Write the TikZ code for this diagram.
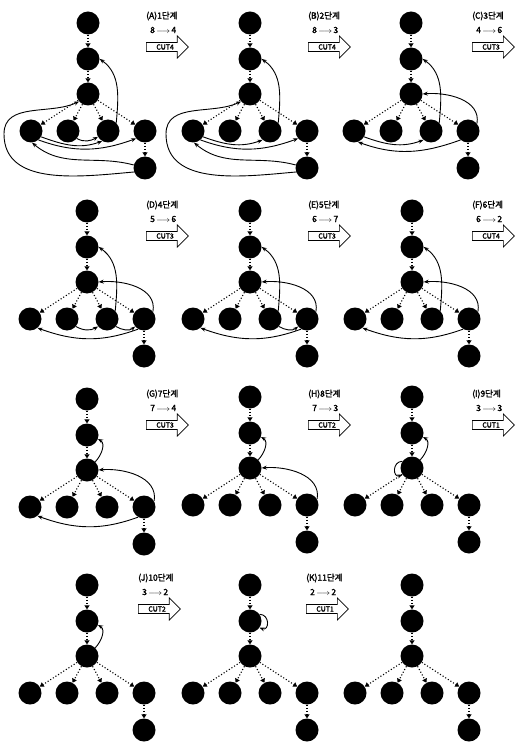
\documentclass[tikz,border=0pt]{standalone}
\usepackage{fontspec}
\newfontfamily\kfont{Noto Sans CJK KR}[FakeBold=2]
\usetikzlibrary{arrows.meta, shapes.arrows, calc, positioning}

\tikzset{
  vtx/.style={circle, fill=black, minimum size=23pt, inner sep=0pt},
  treeedge/.style={dotted, line width=1.1pt, -{Triangle[length=4pt,width=5pt]}},
  cutarc/.style={line width=0.9pt, -{Stealth[length=5pt,width=4pt]}},
  steptext/.style={anchor=west, inner sep=0pt, font=\kfont\fontsize{8.5}{9}\selectfont},
  cutbox/.style={draw, line width=0.7pt, single arrow, single arrow head extend=6.5pt,
    minimum height=42pt, inner sep=1.5pt, anchor=west, font=\kfont\fontsize{7}{7}\selectfont},
}

% one tree: prefix, x, y of the root
\newcommand\stagetree[3]{%
  \node[vtx] (#1-r) at (#2,#3) {};
  \node[vtx] (#1-n2) at ($(#1-r)+(0,-36)$) {};
  \node[vtx] (#1-n3) at ($(#1-r)+(0,-71)$) {};
  \node[vtx] (#1-c1) at ($(#1-r)+(-57,-108)$) {};
  \node[vtx] (#1-c2) at ($(#1-r)+(-20,-108)$) {};
  \node[vtx] (#1-c3) at ($(#1-r)+(20,-108)$) {};
  \node[vtx] (#1-c4) at ($(#1-r)+(57,-108)$) {};
  \node[vtx] (#1-b) at ($(#1-r)+(57,-145)$) {};
  \draw[treeedge] (#1-r) -- (#1-n2);
  \draw[treeedge] (#1-n2) -- (#1-n3);
  \foreach \c in {c1,c2,c3,c4}
    \draw[treeedge] (#1-n3) -- (#1-\c);
  \draw[treeedge] (#1-c4) -- (#1-b);
}

% stage caption: prefix, x, y, title, numbers, cut
\newcommand\stagelabel[6]{%
  \node[steptext] (#1-title) at (#2,#3) {#4};
  \node[steptext] (#1-step) at ($(#1-title.west)+(4,-14)$) {#5};
  \node[cutbox] (#1-cut) at ($(#1-title.west)+(0,-31)$) {#6};
}

\begin{document}
\begin{tikzpicture}[x=1pt,y=1pt]
\useasboundingbox (0,0) rectangle (517,-743);

% Trees
\stagetree{A}{88}{-23}
\stagetree{B}{250}{-23}
\stagetree{C}{411}{-23}
\stagetree{D}{87}{-211}
\stagetree{E}{250}{-211}
\stagetree{F}{412}{-211}
\stagetree{G}{87}{-399}
\stagetree{H}{250}{-397}
\stagetree{I}{412}{-397}
\stagetree{J}{87}{-585}
\stagetree{K}{250}{-585}
\stagetree{L}{412}{-585}

% Captions
\stagelabel{A}{146}{-16}{(A)1단계}{8\,$\longrightarrow$\,4}{CUT4}
\stagelabel{B}{308}{-16}{(B)2단계}{8\,$\longrightarrow$\,3}{CUT4}
\stagelabel{C}{472}{-16}{(C)3단계}{4\,$\longrightarrow$\,6}{CUT3}
\stagelabel{D}{146}{-205}{(D)4단계}{5\,$\longrightarrow$\,6}{CUT3}
\stagelabel{E}{308}{-205}{(E)5단계}{6\,$\longrightarrow$\,7}{CUT3}
\stagelabel{F}{472}{-205}{(F)6단계}{6\,$\longrightarrow$\,2}{CUT4}
\stagelabel{G}{146}{-394}{(G)7단계}{7\,$\longrightarrow$\,4}{CUT3}
\stagelabel{H}{308}{-394}{(H)8단계}{7\,$\longrightarrow$\,3}{CUT2}
\stagelabel{I}{472}{-394}{(I)9단계}{3\,$\longrightarrow$\,3}{CUT1}
\stagelabel{J}{138}{-578}{(J)10단계}{3\,$\longrightarrow$\,2}{CUT2}
\stagelabel{K}{306}{-578}{(K)11단계}{2\,$\longrightarrow$\,2}{CUT1}

% Stage A
\coordinate (A-lp) at ($(A-c1)+(-27,-3)$);
\draw[cutarc] (A-c3.45) to[out=85,in=-35] (A-n2.east);
\draw[cutarc] (A-b.200) to[out=185,in=-90] (A-lp) to[out=90,in=205] (A-n3.220);
\draw[cutarc] (A-b.165) to[out=165,in=-40] (A-c1.-85);
\draw[cutarc] (A-c2.-40) to[out=-30,in=210] (A-c3.-150);
\draw[cutarc] (A-c1.-30) to[out=-20,in=200] (A-c3.-120);
\draw[cutarc] (A-c1.-50) to[out=-20,in=200] (A-c4.-140);

% Stage B
\coordinate (B-lp) at ($(B-c1)+(-27,-3)$);
\draw[cutarc] (B-c3.45) to[out=85,in=-35] (B-n2.east);
\draw[cutarc] (B-b.200) to[out=185,in=-90] (B-lp) to[out=90,in=205] (B-n3.220);
\draw[cutarc] (B-b.165) to[out=165,in=-40] (B-c1.-85);
\draw[cutarc] (B-c1.-30) to[out=-20,in=200] (B-c3.-130);
\draw[cutarc] (B-c1.-50) to[out=-20,in=200] (B-c4.-140);

% Stage C
\draw[cutarc] (C-c3.45) to[out=85,in=-35] (C-n2.east);
\draw[cutarc] (C-c4.40) to[out=80,in=5] (C-n3.east);
\draw[cutarc] (C-c1.-30) to[out=-20,in=200] (C-c3.-130);
\draw[cutarc] (C-c4.-130) to[out=200,in=-20] (C-c1.-70);

% Stage D
\draw[cutarc] (D-c3.45) to[out=85,in=-35] (D-n2.east);
\draw[cutarc] (D-c4.40) to[out=80,in=5] (D-n3.east);
\draw[cutarc] (D-c2.-40) to[out=-30,in=210] (D-c3.-140);
\draw[cutarc] (D-c3.-40) to[out=-30,in=220] (D-c4.-140);
\draw[cutarc] (D-c4.-120) to[out=200,in=-20] (D-c1.-50);

% Stage E
\draw[cutarc] (E-c3.45) to[out=85,in=-35] (E-n2.east);
\draw[cutarc] (E-c4.40) to[out=80,in=5] (E-n3.east);
\draw[cutarc] (E-c3.-40) to[out=-30,in=220] (E-c4.-140);
\draw[cutarc] (E-c4.-120) to[out=200,in=-20] (E-c1.-50);

% Stage F
\draw[cutarc] (F-c3.45) to[out=85,in=-35] (F-n2.east);
\draw[cutarc] (F-c4.40) to[out=80,in=5] (F-n3.east);
\draw[cutarc] (F-c4.-120) to[out=200,in=-20] (F-c1.-50);

% Stage G
\draw[cutarc] (G-n3.45) to[out=45,in=-30] (G-n2.-20);
\draw[cutarc] (G-c4.30) to[out=80,in=5] (G-n3.east);
\draw[cutarc] (G-c4.-120) to[out=200,in=-20] (G-c1.-50);

% Stage H
\draw[cutarc] (H-n3.45) to[out=45,in=-30] (H-n2.-20);
\draw[cutarc] (H-c4.30) to[out=80,in=5] (H-n3.east);

% Stage I
\draw[cutarc] (I-n3.45) to[out=45,in=-30] (I-n2.-20);
\draw[cutarc] (I-n3.145) to[out=180,in=200,looseness=2] (I-n3.215);

% Stage J
\draw[cutarc] (J-n3.45) to[out=45,in=-30] (J-n2.-20);

% Stage K
\draw[cutarc] (K-n2.35) to[out=0,in=-20,looseness=2] (K-n2.-35);
\end{tikzpicture}
\end{document}
